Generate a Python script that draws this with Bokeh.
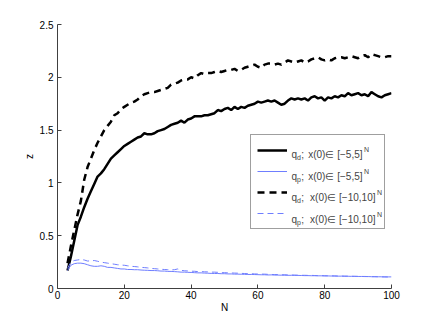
from bokeh.plotting import figure
from bokeh.models import Legend, LegendItem, Label, Range1d, FixedTicker
from bokeh.embed import file_html
from bokeh.resources import INLINE

N = list(range(3, 101))

qd_5 = [0.17, 0.30, 0.45, 0.60, 0.68, 0.77, 0.85, 0.92, 0.99, 1.06, 1.09, 1.13, 1.18, 1.23, 1.26, 1.29, 1.32, 1.35,
        1.37, 1.39, 1.41, 1.43, 1.44, 1.47, 1.46, 1.46, 1.47, 1.49, 1.50, 1.51, 1.53, 1.55, 1.56, 1.57, 1.59, 1.57,
        1.60, 1.61, 1.63, 1.63, 1.63, 1.64, 1.64, 1.65, 1.66, 1.69, 1.68, 1.70, 1.71, 1.69, 1.72, 1.70, 1.72, 1.71,
        1.73, 1.74, 1.75, 1.77, 1.76, 1.77, 1.78, 1.77, 1.78, 1.76, 1.74, 1.75, 1.78, 1.80, 1.79, 1.80, 1.79, 1.80,
        1.78, 1.81, 1.82, 1.80, 1.81, 1.78, 1.81, 1.80, 1.82, 1.81, 1.83, 1.82, 1.85, 1.83, 1.84, 1.85, 1.83, 1.84,
        1.82, 1.86, 1.84, 1.82, 1.81, 1.83, 1.84, 1.85]

qp_5 = [0.17, 0.22, 0.235, 0.24, 0.24, 0.235, 0.225, 0.215, 0.21, 0.21, 0.215, 0.21, 0.20, 0.20, 0.195, 0.19,
        0.185, 0.185, 0.18, 0.18, 0.178, 0.178, 0.175, 0.173, 0.172, 0.17, 0.17, 0.168, 0.165, 0.165, 0.162, 0.162,
        0.16, 0.158, 0.155, 0.155, 0.153, 0.152, 0.15, 0.148, 0.148, 0.146, 0.145, 0.143, 0.142, 0.142, 0.14, 0.14,
        0.138, 0.138, 0.136, 0.136, 0.135, 0.134, 0.133, 0.133, 0.132, 0.131, 0.13, 0.13, 0.128, 0.129, 0.127,
        0.127, 0.126, 0.126, 0.125, 0.125, 0.124, 0.124, 0.123, 0.122, 0.122, 0.121, 0.121, 0.12, 0.12, 0.119,
        0.119, 0.118, 0.118, 0.117, 0.117, 0.116, 0.116, 0.115, 0.115, 0.114, 0.114, 0.113, 0.113, 0.112, 0.112,
        0.111, 0.111, 0.11, 0.11, 0.11]

qd_10 = [0.24, 0.40, 0.55, 0.70, 0.83, 1.03, 1.15, 1.23, 1.31, 1.38, 1.44, 1.50, 1.54, 1.58, 1.64, 1.66, 1.70,
         1.72, 1.74, 1.76, 1.77, 1.79, 1.82, 1.84, 1.85, 1.86, 1.86, 1.87, 1.88, 1.89, 1.90, 1.93, 1.94, 1.95,
         1.97, 1.98, 1.98, 2.00, 1.99, 2.02, 2.04, 2.03, 2.04, 2.04, 2.05, 2.06, 2.05, 2.06, 2.07, 2.07, 2.08,
         2.06, 2.07, 2.09, 2.10, 2.11, 2.12, 2.10, 2.09, 2.12, 2.13, 2.13, 2.12, 2.13, 2.12, 2.14, 2.16, 2.15,
         2.14, 2.15, 2.16, 2.14, 2.15, 2.17, 2.18, 2.19, 2.17, 2.16, 2.17, 2.16, 2.18, 2.19, 2.19, 2.18, 2.19,
         2.20, 2.19, 2.18, 2.20, 2.21, 2.19, 2.22, 2.21, 2.20, 2.19, 2.19, 2.20, 2.20]

qp_10 = [0.19, 0.25, 0.265, 0.27, 0.275, 0.27, 0.26, 0.262, 0.265, 0.258, 0.25, 0.245, 0.24, 0.235, 0.23, 0.225,
         0.222, 0.22, 0.215, 0.21, 0.208, 0.205, 0.20, 0.198, 0.195, 0.19, 0.188, 0.185, 0.182, 0.18, 0.178, 0.176,
         0.178, 0.185, 0.172, 0.168, 0.166, 0.164, 0.163, 0.16, 0.16, 0.158, 0.157, 0.155, 0.155, 0.153, 0.15,
         0.15, 0.148, 0.147, 0.146, 0.145, 0.143, 0.142, 0.14, 0.14, 0.138, 0.137, 0.136, 0.136, 0.134, 0.133,
         0.132, 0.132, 0.13, 0.13, 0.128, 0.128, 0.127, 0.126, 0.125, 0.125, 0.124, 0.124, 0.123, 0.122, 0.122,
         0.121, 0.12, 0.12, 0.119, 0.118, 0.118, 0.117, 0.117, 0.116, 0.115, 0.115, 0.114, 0.114, 0.113, 0.112,
         0.112, 0.111, 0.11, 0.11, 0.109, 0.108]

x_ticks = [0, 20, 40, 60, 80, 100]
y_ticks = [0, 0.5, 1, 1.5, 2, 2.5]

sub_labels = ["d", "p", "d", "p"]
range_labels = ["x(0)\u2208 [\u22125,5]", "x(0)\u2208 [\u22125,5]",
                "x(0)\u2208 [\u221210,10]", "x(0)\u2208 [\u221210,10]"]

FONT = "Liberation Sans"
BLUE = "#6f7eff"

p = figure(width=424, height=317, output_backend="svg", toolbar_location=None,
           x_range=Range1d(0, 100), y_range=Range1d(0, 2.5),
           min_border_left=57, min_border_top=24, min_border_right=33, min_border_bottom=29)
p.outline_line_color = None
p.grid.visible = False
p.background_fill_color = "white"
p.border_fill_color = "white"

for ax in (p.xaxis[0], p.yaxis[0]):
    ax.axis_line_color = "#404040"
    ax.major_tick_line_color = "#404040"
    ax.major_tick_in = 4
    ax.major_tick_out = 0
    ax.minor_tick_line_color = None
    ax.major_label_text_font = FONT
    ax.major_label_text_font_size = "10px"
    ax.major_label_text_color = "black"
    ax.axis_label_text_font = FONT
    ax.axis_label_text_font_size = "10px"
    ax.axis_label_text_font_style = "normal"
    ax.axis_label_text_color = "black"
p.xaxis[0].ticker = FixedTicker(ticks=x_ticks)
p.yaxis[0].ticker = FixedTicker(ticks=y_ticks)
p.xaxis[0].axis_label = "N"
p.yaxis[0].axis_label = "z"
p.xaxis[0].major_label_standoff = 2
p.xaxis[0].axis_label_standoff = 0
p.yaxis[0].major_label_standoff = 4
p.yaxis[0].axis_label_standoff = 2

r1 = p.line(N, qd_5, line_color="black", line_width=2.5)
r2 = p.line(N, qp_5, line_color=BLUE, line_width=1)
r3 = p.line(N, qd_10, line_color="black", line_width=2.5, line_dash="7 5")
r4 = p.line(N, qp_10, line_color=BLUE, line_width=1, line_dash="6 4")

legend = Legend(items=[LegendItem(label=" ", renderers=[r]) for r in (r1, r2, r3, r4)],
                location=(193, 59), padding=6, spacing=3, glyph_width=30, glyph_height=18,
                label_height=18, label_width=91, label_standoff=0, margin=0,
                border_line_color="#404040", border_line_width=1,
                label_text_font_size="1px", background_fill_alpha=0)
p.add_layout(legend, "center")

x0 = 234
row_y = [138, 116, 95, 73]
end_x = [71, 71, 84, 84]
for i in range(4):
    base = row_y[i] - 3.5
    p.add_layout(Label(x=x0, y=base, x_units="screen", y_units="screen", text="q",
                       text_font=FONT, text_font_size="10px", text_baseline="alphabetic"))
    p.add_layout(Label(x=x0 + 5.6, y=base - 3, x_units="screen", y_units="screen", text=sub_labels[i],
                       text_font=FONT, text_font_size="7px", text_baseline="alphabetic"))
    p.add_layout(Label(x=x0 + 9.7, y=base, x_units="screen", y_units="screen", text=";",
                       text_font=FONT, text_font_size="10px", text_baseline="alphabetic"))
    p.add_layout(Label(x=x0 + end_x[i], y=base, x_units="screen", y_units="screen", text=range_labels[i],
                       text_font=FONT, text_font_size="10px", text_baseline="alphabetic",
                       text_align="right"))
    p.add_layout(Label(x=x0 + end_x[i] + 1.5, y=base + 5, x_units="screen", y_units="screen", text="N",
                       text_font=FONT, text_font_size="7px", text_baseline="alphabetic"))

open("out.html", "w").write(file_html(p, INLINE))
